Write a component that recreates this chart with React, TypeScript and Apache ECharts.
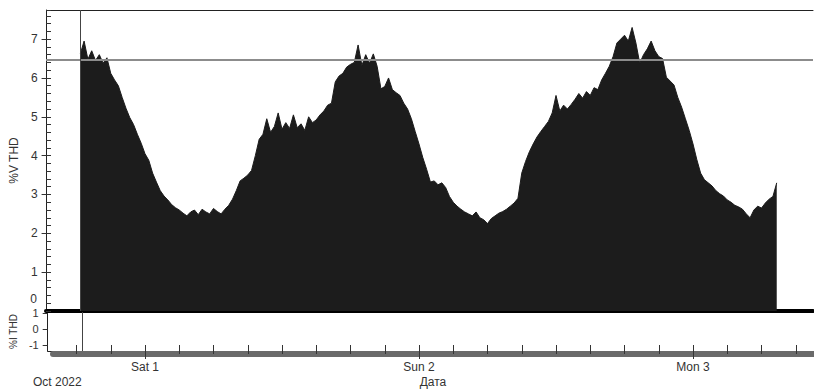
import React, { useEffect, useRef } from 'react';
import * as echarts from 'echarts';

// %V THD readings, one every 20 minutes
const fri30 = [6.62, 6.95, 6.48, 6.7, 6.45, 6.6, 6.38, 6.52, 6.12, 5.95, 5.8, 5.5, 5.22, 4.98, 4.8, 4.55, 4.32];
const sat1 = [
  4.05, 3.88, 3.55, 3.32, 3.1, 2.96, 2.86, 2.74, 2.66, 2.6,
  2.52, 2.45, 2.55, 2.6, 2.48, 2.62, 2.55, 2.5, 2.64, 2.56,
  2.5, 2.62, 2.72, 2.88, 3.1, 3.35, 3.42, 3.5, 3.62, 4.0,
  4.42, 4.55, 4.95, 4.6, 4.75, 5.1, 4.68, 4.85, 4.7, 5.05,
  4.72, 4.82, 4.65, 5.0, 4.85, 4.92, 5.05, 5.15, 5.3, 5.35,
  5.9, 6.05, 6.12, 6.28, 6.35, 6.4, 6.85, 6.32, 6.6, 6.38,
  6.62, 6.3, 5.72, 5.78, 6.0, 5.7, 5.62, 5.55, 5.35, 5.2,
  4.95, 4.62,
];
const sun2 = [
  4.3, 3.95, 3.65, 3.32, 3.35, 3.25, 3.3, 3.18, 2.95, 2.8,
  2.7, 2.62, 2.55, 2.5, 2.45, 2.55, 2.4, 2.35, 2.25, 2.38,
  2.45, 2.52, 2.56, 2.62, 2.7, 2.78, 2.9, 3.55, 3.85, 4.1,
  4.3, 4.48, 4.62, 4.75, 4.88, 5.1, 5.55, 5.15, 5.3, 5.2,
  5.32, 5.45, 5.6, 5.48, 5.65, 5.55, 5.75, 5.7, 5.95, 6.12,
  6.3, 6.55, 6.9, 7.0, 7.1, 6.95, 7.3, 6.9, 6.38, 6.6,
  6.75, 6.95, 6.7, 6.55, 6.5, 6.02, 5.92, 5.82, 5.5, 5.25,
  4.95, 4.65,
];
const mon3 = [4.3, 3.9, 3.55, 3.38, 3.3, 3.22, 3.1, 3.02, 2.96, 2.86, 2.8, 2.72, 2.68, 2.62, 2.5, 2.4, 2.6, 2.7, 2.65, 2.78, 2.88, 2.95, 3.3];

const startHour = -17 / 3; // Fri 30, 18:20 (hours relative to Sat 1 00:00)
const stepHours = 1 / 3;
const vThdThreshold = 6.48;

const dayTicks = [0, 24, 48];
const dayLabels = ['Sat 1', 'Sun 2', 'Mon 3'];
const hourTicks = [-6, -3, 0, 3, 6, 9, 12, 15, 18, 21, 24, 27, 30, 33, 36, 39, 42, 45, 48, 51, 54, 57];
const iTicks = [-1, 0, 1];
const vZeroLabelAt = [0.16]; // "0" label sits just above the panel's bottom edge

const X_MIN = -8.67;
const X_MAX = 58.51;
const X_MIN_DATE = -8.06;

const FONT = "'Liberation Sans', Arial, sans-serif";
const TEXT = '#333';

export default function App() {
  const ref = useRef<HTMLDivElement>(null);
  useEffect(() => {
    if (!ref.current) return;
    const chart = echarts.init(ref.current, null, { renderer: 'svg' });
    const values = [...fri30, ...sat1, ...sun2, ...mon3];
    const data = values.map((v, i) => [startHour + i * stepHours, v]);
    const noAxis = { axisLine: { show: false }, axisTick: { show: false }, axisLabel: { show: false }, splitLine: { show: false } };

    chart.setOption({
      animation: false,
      backgroundColor: '#fff',
      textStyle: { fontFamily: FONT },
      grid: [
        { left: 46, right: 1, top: 10, height: 301 },
        { left: 46, right: 1, top: 10, height: 301 },
        { left: 46, right: 1, top: 312, height: 39 },
        { left: 53, right: 1, top: 300, height: 54 },
        { left: 53, right: 1, top: 300, height: 54 },
        { left: 46, right: 1, top: 10, height: 301 },
      ],
      xAxis: [
        { gridIndex: 0, type: 'value', min: X_MIN, max: X_MAX, ...noAxis, axisLine: { show: true, onZero: false, lineStyle: { color: '#000', width: 4 } } },
        { gridIndex: 1, type: 'value', position: 'top', min: X_MIN, max: X_MAX, ...noAxis, axisLine: { show: true, onZero: false, lineStyle: { color: '#222', width: 1 } } },
        { gridIndex: 2, type: 'value', min: X_MIN, max: X_MAX, ...noAxis, axisLine: { show: true, onZero: false, lineStyle: { color: '#222', width: 1 } } },
        {
          gridIndex: 3, type: 'value', min: X_MIN_DATE, max: X_MAX, ...noAxis,
          axisLine: { show: true, onZero: false, lineStyle: { color: '#6a6a6a', width: 6 } },
          axisTick: { show: true, inside: true, length: 9, customValues: hourTicks, lineStyle: { color: '#333', width: 1 } },
        },
        {
          gridIndex: 4, type: 'value', min: X_MIN_DATE, max: X_MAX, ...noAxis,
          axisLine: { show: false, onZero: false },
          axisTick: { show: true, length: 5, customValues: dayTicks, lineStyle: { color: '#333', width: 1 } },
          axisLabel: {
            show: true, customValues: dayTicks, margin: 7, color: TEXT, fontSize: 12, fontFamily: FONT,
            formatter: (v: number) => dayLabels[dayTicks.indexOf(v)] ?? '',
          },
          name: 'Дата', nameLocation: 'middle', nameGap: 22,
          nameTextStyle: { color: TEXT, fontSize: 12, fontFamily: FONT },
        },
        { gridIndex: 5, type: 'value', min: X_MIN, max: X_MAX, ...noAxis },
      ],
      yAxis: [
        {
          gridIndex: 0, type: 'value', min: 0, max: 7.75, interval: 1,
          axisLine: { show: true, onZero: false, lineStyle: { color: '#222', width: 1 } },
          axisTick: { show: true, inside: true, length: 5, lineStyle: { color: '#333' } },
          minorTick: { show: true, splitNumber: 5, length: 5, lineStyle: { color: '#333' } },
          axisLabel: { show: false }, splitLine: { show: false }, minorSplitLine: { show: false },
        },
        {
          gridIndex: 1, type: 'value', min: 0, max: 7.75, interval: 1,
          axisLine: { show: false, onZero: false },
          axisTick: { show: true, length: 5, lineStyle: { color: '#333' } },
          axisLabel: {
            show: true, showMaxLabel: false, showMinLabel: false, margin: 9, color: TEXT, fontSize: 12, fontFamily: FONT,
          },
          splitLine: { show: false },
          name: '%V THD', nameLocation: 'middle', nameGap: 26,
          nameTextStyle: { color: TEXT, fontSize: 12, fontFamily: FONT },
        },
        {
          gridIndex: 2, type: 'value', min: -1.375, max: 1.06,
          axisLine: { show: true, onZero: false, lineStyle: { color: '#222', width: 1 } },
          axisTick: { show: true, length: 5, customValues: iTicks, lineStyle: { color: '#333' } },
          axisLabel: { show: true, customValues: iTicks, margin: 9, color: TEXT, fontSize: 11, lineHeight: 11, fontFamily: FONT },
          splitLine: { show: false },
          name: '%I THD', nameLocation: 'middle', nameGap: 28,
          nameTextStyle: { color: TEXT, fontSize: 10, fontFamily: FONT },
        },
        { gridIndex: 3, type: 'value', min: 0, max: 1, show: false },
        { gridIndex: 4, type: 'value', min: 0, max: 1, show: false },
        {
          gridIndex: 5, type: 'value', min: 0, max: 7.75,
          axisLine: { show: false, onZero: false }, axisTick: { show: false }, splitLine: { show: false },
          axisLabel: {
            show: true, customValues: vZeroLabelAt, formatter: () => '0', margin: 9,
            verticalAlign: 'bottom', lineHeight: 12, color: TEXT, fontSize: 12, fontFamily: FONT,
          },
        },
      ],
      graphic: [
        { type: 'text', left: 33, top: 376, style: { text: 'Oct 2022', font: `12px ${FONT}`, fill: TEXT } },
      ],
      series: [
        {
          type: 'line', xAxisIndex: 0, yAxisIndex: 0, data,
          showSymbol: false, symbol: 'none',
          lineStyle: { color: '#1c1c1c', width: 1 },
          areaStyle: { color: '#1c1c1c', opacity: 1 },
          markLine: {
            silent: true, symbol: 'none', label: { show: false },
            data: [
              { yAxis: vThdThreshold, lineStyle: { color: '#8c8c8c', width: 2, type: 'solid' } },
              { xAxis: startHour, lineStyle: { color: '#444', width: 1, type: 'solid' } },
            ],
          },
        },
        {
          type: 'line', xAxisIndex: 2, yAxisIndex: 2, data: [],
          showSymbol: false, symbol: 'none',
          markLine: {
            silent: true, symbol: 'none', label: { show: false },
            data: [{ xAxis: startHour, lineStyle: { color: '#444', width: 1, type: 'solid' } }],
          },
        },
      ],
    });
    return () => chart.dispose();
  }, []);
  return <div ref={ref} style={{ position: 'fixed', left: 0, top: 0, width: 814, height: 389, background: '#fff' }} />;
}
